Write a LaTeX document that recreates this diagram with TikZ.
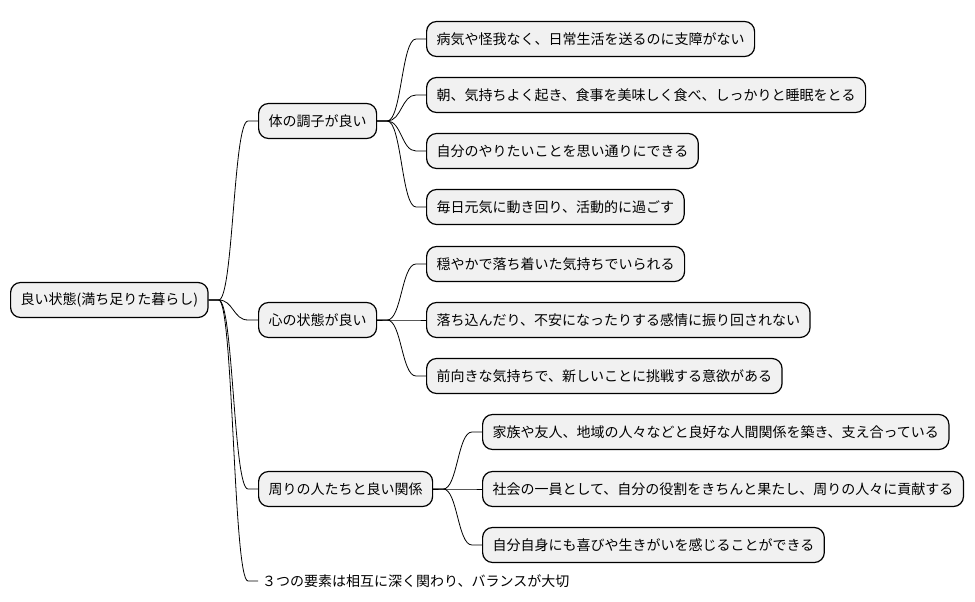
\documentclass[tikz,border=0pt]{standalone}
\usepackage{fontspec}
\setmainfont{Noto Sans CJK JP}
\usetikzlibrary{calc}

\definecolor{boxfill}{HTML}{F1F1F1}

\tikzset{
  topic/.style={draw=black, line width=1.2pt, fill=boxfill, rounded corners=10pt,
    minimum height=35pt, inner xsep=10pt, anchor=west,
    font=\fontsize{14}{16}\selectfont},
  plain/.style={inner xsep=4pt, anchor=west, font=\fontsize{14}{16}\selectfont},
  link/.style={line width=0.8pt, to path={let \p1=(\tikztostart), \p2=(\tikztotarget) in
    (\x1,\y1) -- (\x1+10pt,\y1)
    .. controls (0.5*\x1+0.5*\x2,\y1) and (0.5*\x1+0.5*\x2,\y2) ..
    (\x2-10pt,\y2) -- (\x2,\y2)}}
}

\begin{document}
\begin{tikzpicture}[x=1pt, y=-1pt]

  \useasboundingbox (0,0) rectangle (975,602);

  \node[topic] (root) at (10,300) {良い状態(満ち足りた暮らし)};

  \node[topic] (body) at (258,121) {体の調子が良い};
  \node[topic] (mind) at (258,320) {心の状態が良い};
  \node[topic] (rel) at (258,489) {周りの人たちと良い関係};
  \node[plain] (note) at (258,581) {３つの要素は相互に深く関わり、バランスが大切};

  \node[topic] (body1) at (426,39) {病気や怪我なく、日常生活を送るのに支障がない};
  \node[topic] (body2) at (426,95) {朝、気持ちよく起き、食事を美味しく食べ、しっかりと睡眠をとる};
  \node[topic] (body3) at (426,151) {自分のやりたいことを思い通りにできる};
  \node[topic] (body4) at (426,207) {毎日元気に動き回り、活動的に過ごす};

  \node[topic] (mind1) at (426,264) {穏やかで落ち着いた気持ちでいられる};
  \node[topic] (mind2) at (426,320) {落ち込んだり、不安になったりする感情に振り回されない};
  \node[topic] (mind3) at (426,376) {前向きな気持ちで、新しいことに挑戦する意欲がある};

  \node[topic] (rel1) at (482,432) {家族や友人、地域の人々などと良好な人間関係を築き、支え合っている};
  \node[topic] (rel2) at (482,489) {社会の一員として、自分の役割をきちんと果たし、周りの人々に貢献する};
  \node[topic] (rel3) at (482,545) {自分自身にも喜びや生きがいを感じることができる};

  % branches
  \foreach \t in {body,mind,rel,note}
    \draw[link] (root.east) to (\t.west);
  \foreach \t in {body1,body2,body3,body4}
    \draw[link] (body.east) to (\t.west);
  \foreach \t in {mind1,mind2,mind3}
    \draw[link] (mind.east) to (\t.west);
  \foreach \t in {rel1,rel2,rel3}
    \draw[link] (rel.east) to (\t.west);

\end{tikzpicture}
\end{document}
